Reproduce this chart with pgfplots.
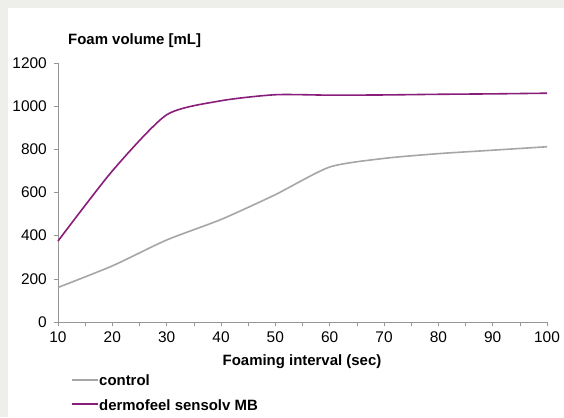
\documentclass[border=0pt]{standalone}
\usepackage{pgfplots}
\pgfplotsset{compat=1.18}
\usepackage{fontspec}
\setmainfont{Liberation Sans}
\definecolor{bggray}{RGB}{238,238,234}
\definecolor{mypurple}{RGB}{136,30,122}
\definecolor{mygray}{RGB}{166,166,166}
\definecolor{axgray}{RGB}{150,150,150}
\begin{document}
\begin{tikzpicture}[x=1bp,y=1bp]
\fill[bggray] (0,0) rectangle (564,417);
\fill[white] (8,0) rectangle (564,409);
\begin{axis}[
  at={(58bp,95bp)}, anchor=south west,
  scale only axis, width=489bp, height=259bp,
  xmin=10, xmax=100, ymin=0, ymax=1200,
  xtick={10,20,...,100}, ytick={0,200,...,1200},
  minor x tick num=1,
  axis lines=left, axis line style={axgray, -},
  tick align=outside, major tick length=4bp, minor tick length=4bp,
  tick style={axgray, line width=0.5pt},
  every tick label/.append style={font=\fontsize{15.5}{17}\selectfont, text=black},
  /pgf/number format/assume math mode=true,
  /pgf/number format/1000 sep={},
  xticklabel style={inner sep=1bp, yshift=-5bp},
  yticklabel style={inner sep=1bp, xshift=-6bp},
  clip=false,
]
\addplot[mygray, line width=1.6bp, smooth, tension=0.4] coordinates {
(10,160) (20,260) (30,380) (40,475) (50,590) (60,718) (70,758) (80,780) (90,796) (100,812)};
\addplot[mypurple, line width=1.6bp, smooth, tension=0.4] coordinates {
(10,375) (20,700) (30,960) (40,1025) (50,1053) (60,1051) (70,1052) (80,1055) (90,1057) (100,1060)};
\end{axis}
\node[anchor=base west, font=\bfseries\fontsize{15}{17}\selectfont, inner sep=0pt] at (68,373) {Foam volume [mL]};
\node[anchor=base, font=\bfseries\fontsize{15}{17}\selectfont, inner sep=0pt] at (302,52) {Foaming interval (sec)};
\draw[mygray, line width=1.6bp] (72,37) -- (98,37);
\node[anchor=base west, font=\bfseries\fontsize{15}{17}\selectfont, inner sep=0pt] at (99,32) {control};
\draw[mypurple, line width=1.6bp] (72,13) -- (98,13);
\node[anchor=base west, font=\bfseries\fontsize{15}{17}\selectfont, inner sep=0pt] at (99,7) {dermofeel sensolv MB};
\end{tikzpicture}
\end{document}
